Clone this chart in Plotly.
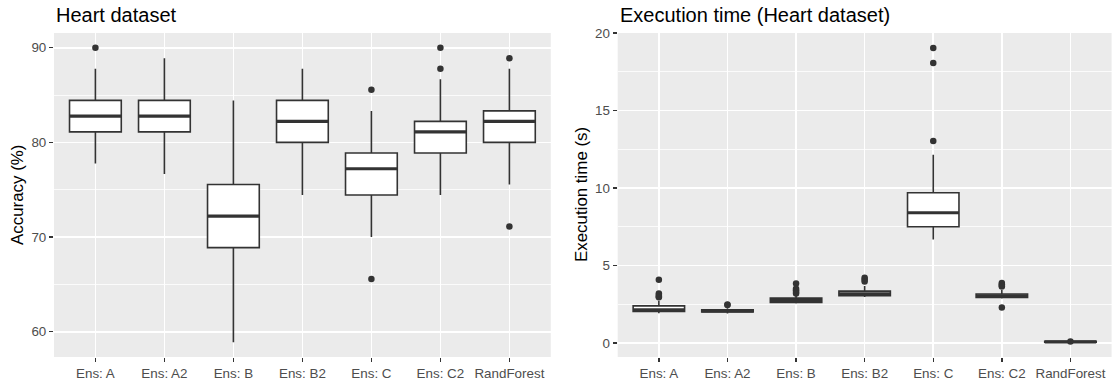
import plotly.graph_objects as go

categories = ["Ens: A", "Ens: A2", "Ens: B", "Ens: B2", "Ens: C", "Ens: C2", "RandForest"]

# Accuracy (%) box statistics
acc_lo = [77.78, 76.67, 58.89, 74.44, 70.00, 74.44, 75.56]
acc_q1 = [81.11, 81.11, 68.89, 80.00, 74.44, 78.89, 80.00]
acc_med = [82.78, 82.78, 72.22, 82.22, 77.22, 81.11, 82.22]
acc_q3 = [84.44, 84.44, 75.56, 84.44, 78.89, 82.22, 83.33]
acc_hi = [87.78, 88.89, 84.44, 87.78, 83.33, 86.67, 87.78]
acc_out_cat = ["Ens: A", "Ens: C", "Ens: C", "Ens: C2", "Ens: C2", "RandForest", "RandForest"]
acc_out_val = [90.00, 85.56, 65.56, 90.00, 87.78, 88.89, 71.11]

# Execution time (s) box statistics
time_lo = [1.93, 1.91, 2.56, 2.98, 6.69, 2.88, 0.05]
time_q1 = [2.04, 2.00, 2.62, 3.05, 7.51, 2.95, 0.06]
time_med = [2.14, 2.07, 2.75, 3.18, 8.41, 3.05, 0.08]
time_q3 = [2.40, 2.15, 2.90, 3.35, 9.70, 3.17, 0.11]
time_hi = [2.73, 2.25, 3.07, 3.69, 12.16, 3.43, 0.13]
time_out_cat = ["Ens: A"] * 5 + ["Ens: A2"] * 2 + ["Ens: B"] * 5 + ["Ens: B2"] * 3 + \
               ["Ens: C"] * 3 + ["Ens: C2"] * 5 + ["RandForest"]
time_out_val = [4.08, 3.20, 3.10, 3.00, 2.95,
                2.49, 2.45,
                3.84, 3.50, 3.40, 3.30, 3.20,
                4.22, 4.10, 3.98,
                19.05, 18.08, 13.04,
                3.88, 3.80, 3.70, 3.65, 2.30,
                0.10]

W, H = 1112, 385
MT, MB = 33, 28
PH = H - MT - MB
FONT = "Liberation Sans, Arial, sans-serif"
DARK = "#333333"
BOXW = 0.75

pos = list(range(1, len(categories) + 1))
idx = {c: i + 1 for i, c in enumerate(categories)}

fig = go.Figure()


def add_panel(xa, ya, lo, q1, med, q3, hi, out_cat, out_val):
    fig.add_trace(go.Box(
        x=pos, q1=q1, median=med, q3=q3, lowerfence=lo, upperfence=hi,
        width=BOXW, whiskerwidth=0, fillcolor="white",
        line=dict(color=DARK, width=1.6), boxpoints=False,
        xaxis=xa, yaxis=ya, showlegend=False, hoverinfo="skip"))
    mx, my = [], []
    for p, m in zip(pos, med):
        mx += [p - BOXW / 2, p + BOXW / 2, None]
        my += [m, m, None]
    fig.add_trace(go.Scatter(x=mx, y=my, mode="lines",
                             line=dict(color=DARK, width=3.2),
                             xaxis=xa, yaxis=ya, showlegend=False, hoverinfo="skip"))
    fig.add_trace(go.Scatter(x=[idx[c] for c in out_cat], y=out_val, mode="markers",
                             marker=dict(color=DARK, size=6.5, line=dict(width=0)),
                             xaxis=xa, yaxis=ya, showlegend=False, hoverinfo="skip"))


add_panel("x", "y", acc_lo, acc_q1, acc_med, acc_q3, acc_hi, acc_out_cat, acc_out_val)
add_panel("x2", "y2", time_lo, time_q1, time_med, time_q3, time_hi, time_out_cat, time_out_val)

tickfont = dict(family=FONT, size=13.4, color="#4D4D4D")
xcommon = dict(range=[0.4, 7.6], tickmode="array", tickvals=pos, ticktext=categories,
               showgrid=True, gridcolor="white", gridwidth=1.6, zeroline=False,
               ticks="outside", ticklen=4, tickwidth=1.4, tickcolor=DARK, tickangle=0,
               tickfont=tickfont, showline=False, automargin=False)
ycommon = dict(showgrid=True, gridcolor="white", gridwidth=1.6, zeroline=False,
               ticks="outside", ticklen=4, tickwidth=1.4, tickcolor=DARK,
               tickfont=tickfont, showline=False, domain=[0, 1], automargin=False)

fig.update_layout(
    width=W, height=H,
    margin=dict(l=0, r=0, t=MT, b=MB),
    paper_bgcolor="white", plot_bgcolor="#EBEBEB",
    xaxis=dict(domain=[54 / W, 550.8 / W], anchor="y", **xcommon),
    xaxis2=dict(domain=[617.7 / W, 1111.6 / W], anchor="y2", **xcommon),
    yaxis=dict(anchor="x", range=[57.33, 91.56], tickmode="linear", tick0=0, dtick=10,
               minor=dict(tick0=0, dtick=5, showgrid=True, gridcolor="white", gridwidth=0.8),
               **ycommon),
    yaxis2=dict(anchor="x2", range=[-0.9, 20.01], tickmode="linear", tick0=0, dtick=5,
                minor=dict(tick0=0, dtick=2.5, showgrid=True, gridcolor="white", gridwidth=0.8),
                **ycommon),
    showlegend=False,
)


def py(p):
    return (H - MB - p) / PH


annots = [
    dict(text="Heart dataset", x=54 / W, y=py(15), xanchor="left", yanchor="middle",
         font=dict(family=FONT, size=20, color="black")),
    dict(text="Execution time (Heart dataset)", x=617.7 / W, y=py(15), xanchor="left",
         yanchor="middle", font=dict(family=FONT, size=20, color="black")),
    dict(text="Accuracy (%)", x=17 / W, y=py(195), xanchor="center", yanchor="middle",
         textangle=-90, font=dict(family=FONT, size=16.9, color="black")),
    dict(text="Execution time (s)", x=581 / W, y=py(195), xanchor="center", yanchor="middle",
         textangle=-90, font=dict(family=FONT, size=16.9, color="black")),
]
for a in annots:
    a.update(xref="paper", yref="paper", showarrow=False)
fig.update_layout(annotations=annots)

fig.write_html("out.html", config={"displayModeBar": False, "staticPlot": True},
               post_script="document.body.style.margin='0';document.body.style.overflow='hidden';")
